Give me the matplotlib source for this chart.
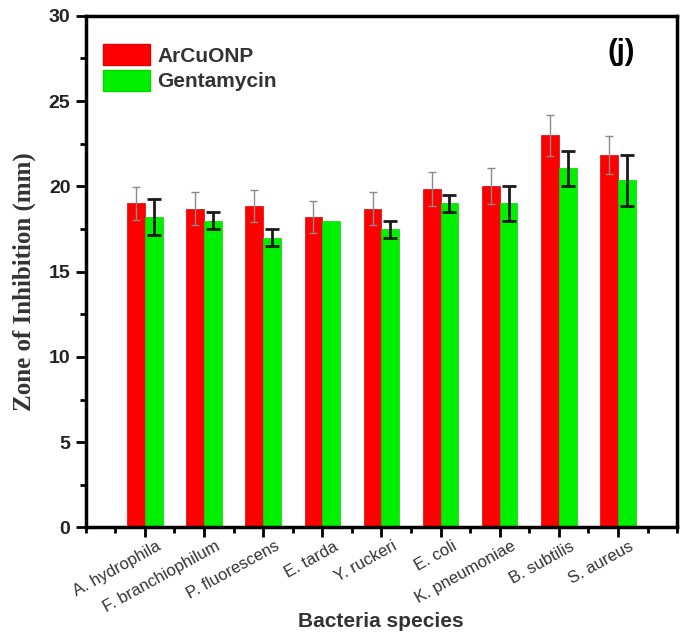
import numpy as np
import matplotlib
matplotlib.use("Agg")
import matplotlib.pyplot as plt
from matplotlib.ticker import MultipleLocator
from matplotlib.patches import Patch

species = ["A. hydrophila", "F. branchiophilum", "P. fluorescens", "E. tarda",
           "Y. ruckeri", "E. coli", "K. pneumoniae", "B. subtilis", "S. aureus"]
arcuonp = [19.0, 18.7, 18.85, 18.2, 18.7, 19.85, 20.0, 23.0, 21.85]
arcuonp_err = [0.95, 0.95, 0.95, 0.95, 0.95, 1.0, 1.05, 1.2, 1.1]
genta = [18.2, 18.0, 17.0, 18.0, 17.5, 19.0, 19.0, 21.05, 20.35]
genta_err = [1.05, 0.5, 0.5, 0.0, 0.5, 0.5, 1.0, 1.0, 1.5]

fig = plt.figure(figsize=(6.86, 6.34), dpi=100)
ax = fig.add_axes([0.125, 0.168, 0.862, 0.807])

x = np.arange(1, len(species) + 1)
w = 0.30

ax.bar(x - w / 2, arcuonp, w, color="#ff0000", edgecolor="#e00000", linewidth=0.5, zorder=2)
ax.bar(x + w / 2, genta, w, color="#00f000", edgecolor="#00d800", linewidth=0.5, zorder=2)
ax.errorbar(x - w / 2, arcuonp, yerr=arcuonp_err, fmt="none", ecolor="#8a8a8a",
            elinewidth=1, capsize=3, capthick=1, zorder=3)
# E. tarda has no visible error bar for gentamycin
ge = np.array(genta_err)
has_err = ge > 0
ax.errorbar((x + w / 2)[has_err], np.array(genta)[has_err], yerr=ge[has_err], fmt="none",
            ecolor="#1a1a1a", elinewidth=2, capsize=5, capthick=2, zorder=3)

ax.set_xlim(0, 10)
ax.set_ylim(0, 30)
ax.set_xticks(x)
ax.set_xticklabels([])
# rotated category labels, nudged right of the tick like the original
for xi, name in zip(x, species):
    ax.annotate(name, xy=(xi, 0), xycoords=("data", "axes fraction"),
                xytext=(8, -8), textcoords="offset points", rotation=29,
                ha="right", va="top", rotation_mode="anchor",
                family="Liberation Sans", fontsize=12, color="#333333")
ax.xaxis.set_minor_locator(MultipleLocator(0.5))
ax.yaxis.set_major_locator(MultipleLocator(5))
ax.yaxis.set_minor_locator(MultipleLocator(2.5))
for lab in ax.get_yticklabels():
    lab.set_family("Liberation Sans")
    lab.set_fontweight("bold")
    lab.set_fontsize(14)
    lab.set_color("#222222")
ax.tick_params(which="major", length=7, width=2, direction="out")
ax.tick_params(which="minor", length=4, width=2, direction="out")
ax.tick_params(axis="y", which="major", pad=4)
for s in ax.spines.values():
    s.set_linewidth(2.5)

fig.text(24 / 686, 1 - 282 / 634, "Zone of Inhibition (mm)", rotation=90,
         ha="center", va="center", family="Liberation Serif", fontweight="bold",
         fontsize=18, color="#333333")
fig.text(381 / 686, 1 - 627 / 634, "Bacteria species", ha="center", va="baseline",
         family="Liberation Sans", fontweight="bold", fontsize=15, color="#333333")

handles = [Patch(facecolor="#ff0000", edgecolor="#e00000"),
           Patch(facecolor="#00f000", edgecolor="#00d800")]
leg = ax.legend(handles, ["ArCuONP", "Gentamycin"], loc="upper left", frameon=False,
                bbox_to_anchor=(-0.002, 0.982), handlelength=2.26, handleheight=1.2,
                handletextpad=0.34, labelspacing=0.2,
                prop={"family": "Liberation Sans", "weight": "bold", "size": 15})
for t in leg.get_texts():
    t.set_color("#333333")

ax.text(0.928, 0.93, "(j)", transform=ax.transAxes, ha="right", va="center",
        family="Liberation Sans", fontweight="bold", fontsize=21)

fig.savefig("out.png", dpi=100)
